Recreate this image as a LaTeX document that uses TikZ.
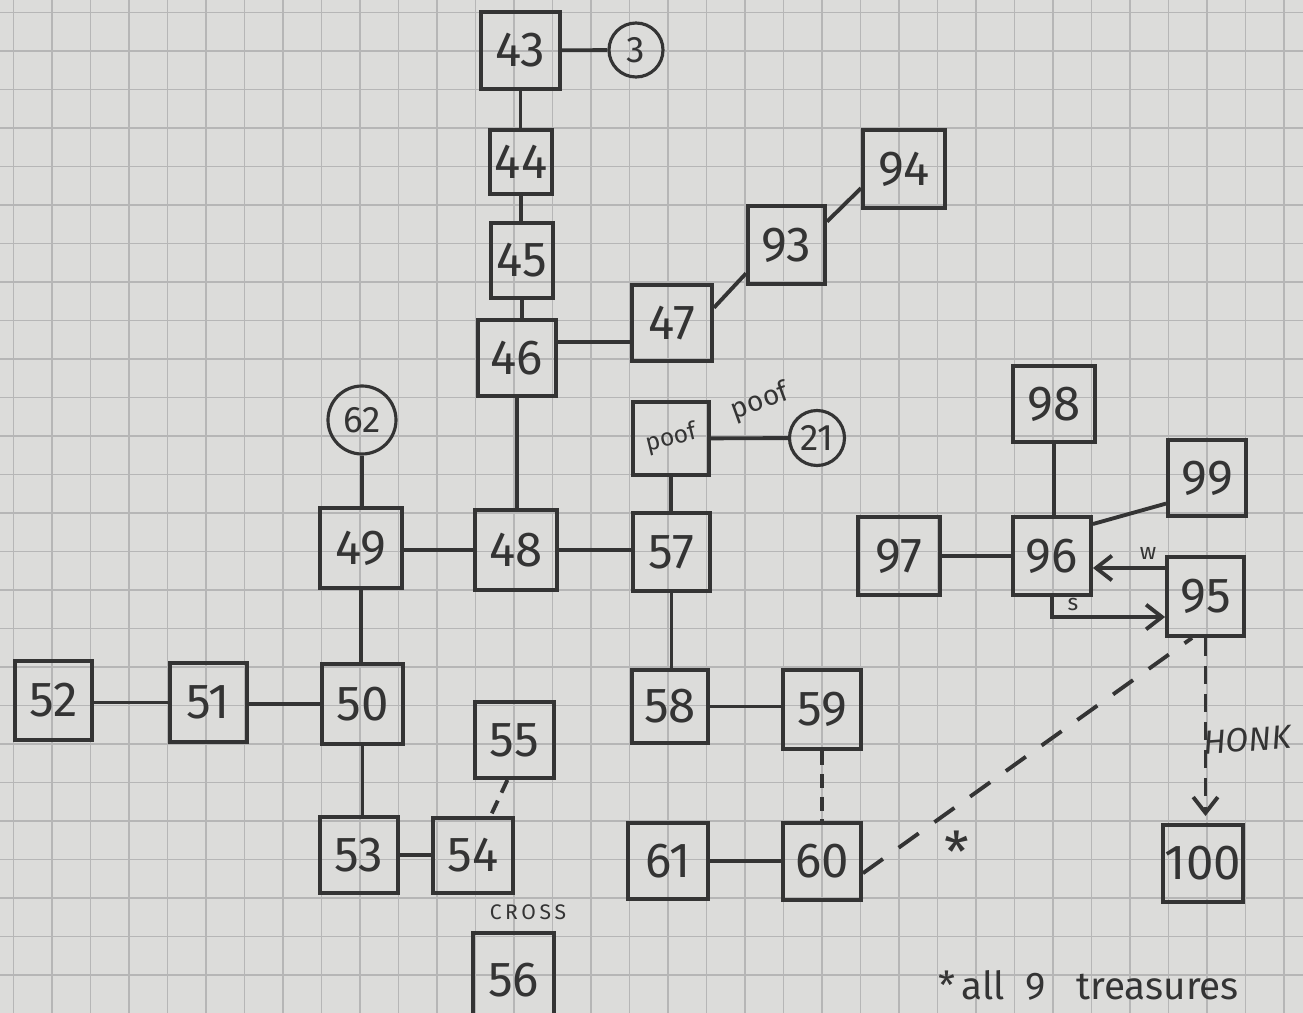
\documentclass[tikz,border=0pt]{standalone}
\usepackage{fontspec}
\setmainfont{Fira Sans}
\usetikzlibrary{arrows.meta}
\definecolor{ink}{RGB}{52,52,52}
\definecolor{paper}{RGB}{220,220,218}
\definecolor{gridc}{RGB}{182,182,182}
\tikzset{
  box/.style={draw=ink,line width=2.2pt,inner sep=0pt,text=ink,font=\fontsize{28}{28}\selectfont},
  sz/.style 2 args={minimum width=#1*0.02cm,minimum height=#2*0.02cm},
  circ/.style={circle,draw=ink,line width=1.8pt,inner sep=0pt,text=ink,font=\fontsize{21}{21}\selectfont},
  link/.style={draw=ink,line width=2.2pt},
  dashlink/.style={link,dash pattern=on 8pt off 5pt},
  longdash/.style={link,dash pattern=on 14pt off 11pt},
  arr/.style={-{Straight Barb[length=9pt,width=14pt]}},
  lbl/.style={text=ink,inner sep=0pt},
  gridline/.style={draw=gridc,line width=0.6pt}}
\begin{document}
\begin{tikzpicture}[x=0.02cm,y=-0.02cm]
\useasboundingbox (0,0) rectangle (1303,1013);
\fill[paper] (0,0) rectangle (1303,1013);
\foreach \i in {0,...,33} \draw[gridline] ({13.5+38.5*\i},0) -- ({13.5+38.5*\i},1013);
\foreach \j in {0,...,26} \draw[gridline] (0,{12.5+38.5*\j}) -- (1303,{12.5+38.5*\j});

% boxes
\node[box,sz={79}{77}] (n43) at (520.5,50.5) {43};
\node[box,sz={62}{64}] (n44) at (521,162) {44};
\node[box,sz={62}{75}] (n45) at (522,260.5) {45};
\node[box,sz={78}{76}] (n46) at (517,358) {46};
\node[box,sz={80}{76}] (n47) at (672,323) {47};
\node[box,sz={77}{78}] (n93) at (786.5,245) {93};
\node[box,sz={82}{78}] (n94) at (904,169) {94};
\node[box,sz={76}{73}] (npoof) at (671,438.5) {\fontsize{14}{14}\selectfont\rotatebox{14}{poof}};
\node[box,sz={77}{78}] (n57) at (671.5,552) {57};
\node[box,sz={82}{80}] (n49) at (361,548) {49};
\node[box,sz={82}{80}] (n48) at (516,550) {48};
\node[box,sz={81}{80}] (n50) at (362.5,704) {50};
\node[box,sz={77}{79}] (n51) at (208.5,702.5) {51};
\node[box,sz={77}{79}] (n52) at (53.5,700.5) {52};
\node[box,sz={78}{76}] (n53) at (359,855) {53};
\node[box,sz={80}{75}] (n54) at (473,855.5) {54};
\node[box,sz={79}{76}] (n55) at (514.5,740) {55};
\node[box,sz={81}{94}] (n56) at (513.5,980) {56};
\node[box,sz={76}{73}] (n58) at (670,706.5) {58};
\node[box,sz={78}{79}] (n59) at (822,709.5) {59};
\node[box,sz={80}{76}] (n61) at (668,861) {61};
\node[box,sz={78}{77}] (n60) at (822,861.5) {60};
\node[box,sz={82}{78}] (n97) at (899,556) {97};
\node[box,sz={78}{78}] (n96) at (1052,556) {96};
\node[box,sz={82}{76}] (n98) at (1054,404) {98};
\node[box,sz={78}{76}] (n99) at (1207,478) {99};
\node[box,sz={77}{79}] (n95) at (1205.5,596.5) {95};
\node[box,sz={80}{77}] (n100) at (1203,863.5) {100};

% circles
\node[circ,minimum size=54*0.02cm] (c3) at (636,50) {3};
\node[circ,minimum size=55*0.02cm] (c21) at (817,438) {21};
\node[circ,minimum size=68*0.02cm] (c62) at (362,420) {62};

% connectors
\draw[link] (n43) -- (c3);
\draw[link] (n43.south) -- (n43.south |- n44.north);
\draw[link] (n44.south) -- (n44.south |- n45.north);
\draw[link] (n45.south) -- (n45.south |- n46.north);
\draw[link] (n46.east |- 0,342) -- (n47.west |- 0,342);
\draw[link] (n47.20) -- (n93.215);
\draw[link] (n93.30) -- (n94.204);
\draw[link] (n46.south) -- (n46.south |- n48.north);
\draw[link] (npoof) -- (c21);
\draw[link] (npoof.south) -- (npoof.south |- n57.north);
\draw[link] (c62.south) -- (c62.south |- n49.north);
\draw[link] (n49.east |- n48.west) -- (n48.west);
\draw[link] (n48.east) -- (n48.east -| n57.west);
\draw[link] (n49.south) -- (n49.south |- n50.north);
\draw[link] (n50.west) -- (n50.west -| n51.east);
\draw[link] (n51.west) -- (n51.west -| n52.east);
\draw[link] (n50.south) -- (n50.south |- n53.north);
\draw[link] (n53.east) -- (n53.east -| n54.west);
\draw[dashlink] (n55.260) -- (n54.66);
\draw[link] (n57.south) -- (n57.south |- n58.north);
\draw[link] (n58.east) -- (n58.east -| n59.west);
\draw[dashlink] (n59.south) -- (n59.south |- n60.north);
\draw[link] (n61.east) -- (n61.east -| n60.west);
\draw[longdash] (n60.-16) -- (n95.252);
\draw[link] (n97) -- (n96);
\draw[link] (n98.south) -- (n98.south |- n96.north);
\draw[link] (n96.38) -- (n99.212);
\draw[link,arr] (n95.west |- 0,568) -- (n96.east |- 0,568);
\draw[link,arr] (n96.south) |- (n95.west |- 0,617);
\draw[link,arr,dash pattern=on 10pt off 6pt,shorten >=4pt] (n95.south) -- (n95.south |- n100.north);

% labels
\node[lbl,font=\fontsize{16}{16}\selectfont,rotate=20] (lpoof) at (760,402) {poof};
\node[lbl,font=\fontsize{13}{13}\selectfont] (lw) at (1148,553) {w};
\node[lbl,font=\fontsize{13}{13}\selectfont] (ls) at (1073,604) {s};
\node[lbl,font=\itshape\fontsize{19}{19}\selectfont,rotate=4] (lhonk) at (1247,740) {HONK};
\node[lbl,font=\fontsize{12}{12}\selectfont] (lcross) at (528,912) {C\,R\,O\,S\,S};
\node[lbl,font=\fontsize{32}{32}\selectfont] (last) at (957,852) {*};
\node[lbl,font=\fontsize{22}{22}\selectfont,anchor=base west] (lnote) at (938,999) {*\,all\ \ 9\ \ \ treasures};
\end{tikzpicture}
\end{document}
